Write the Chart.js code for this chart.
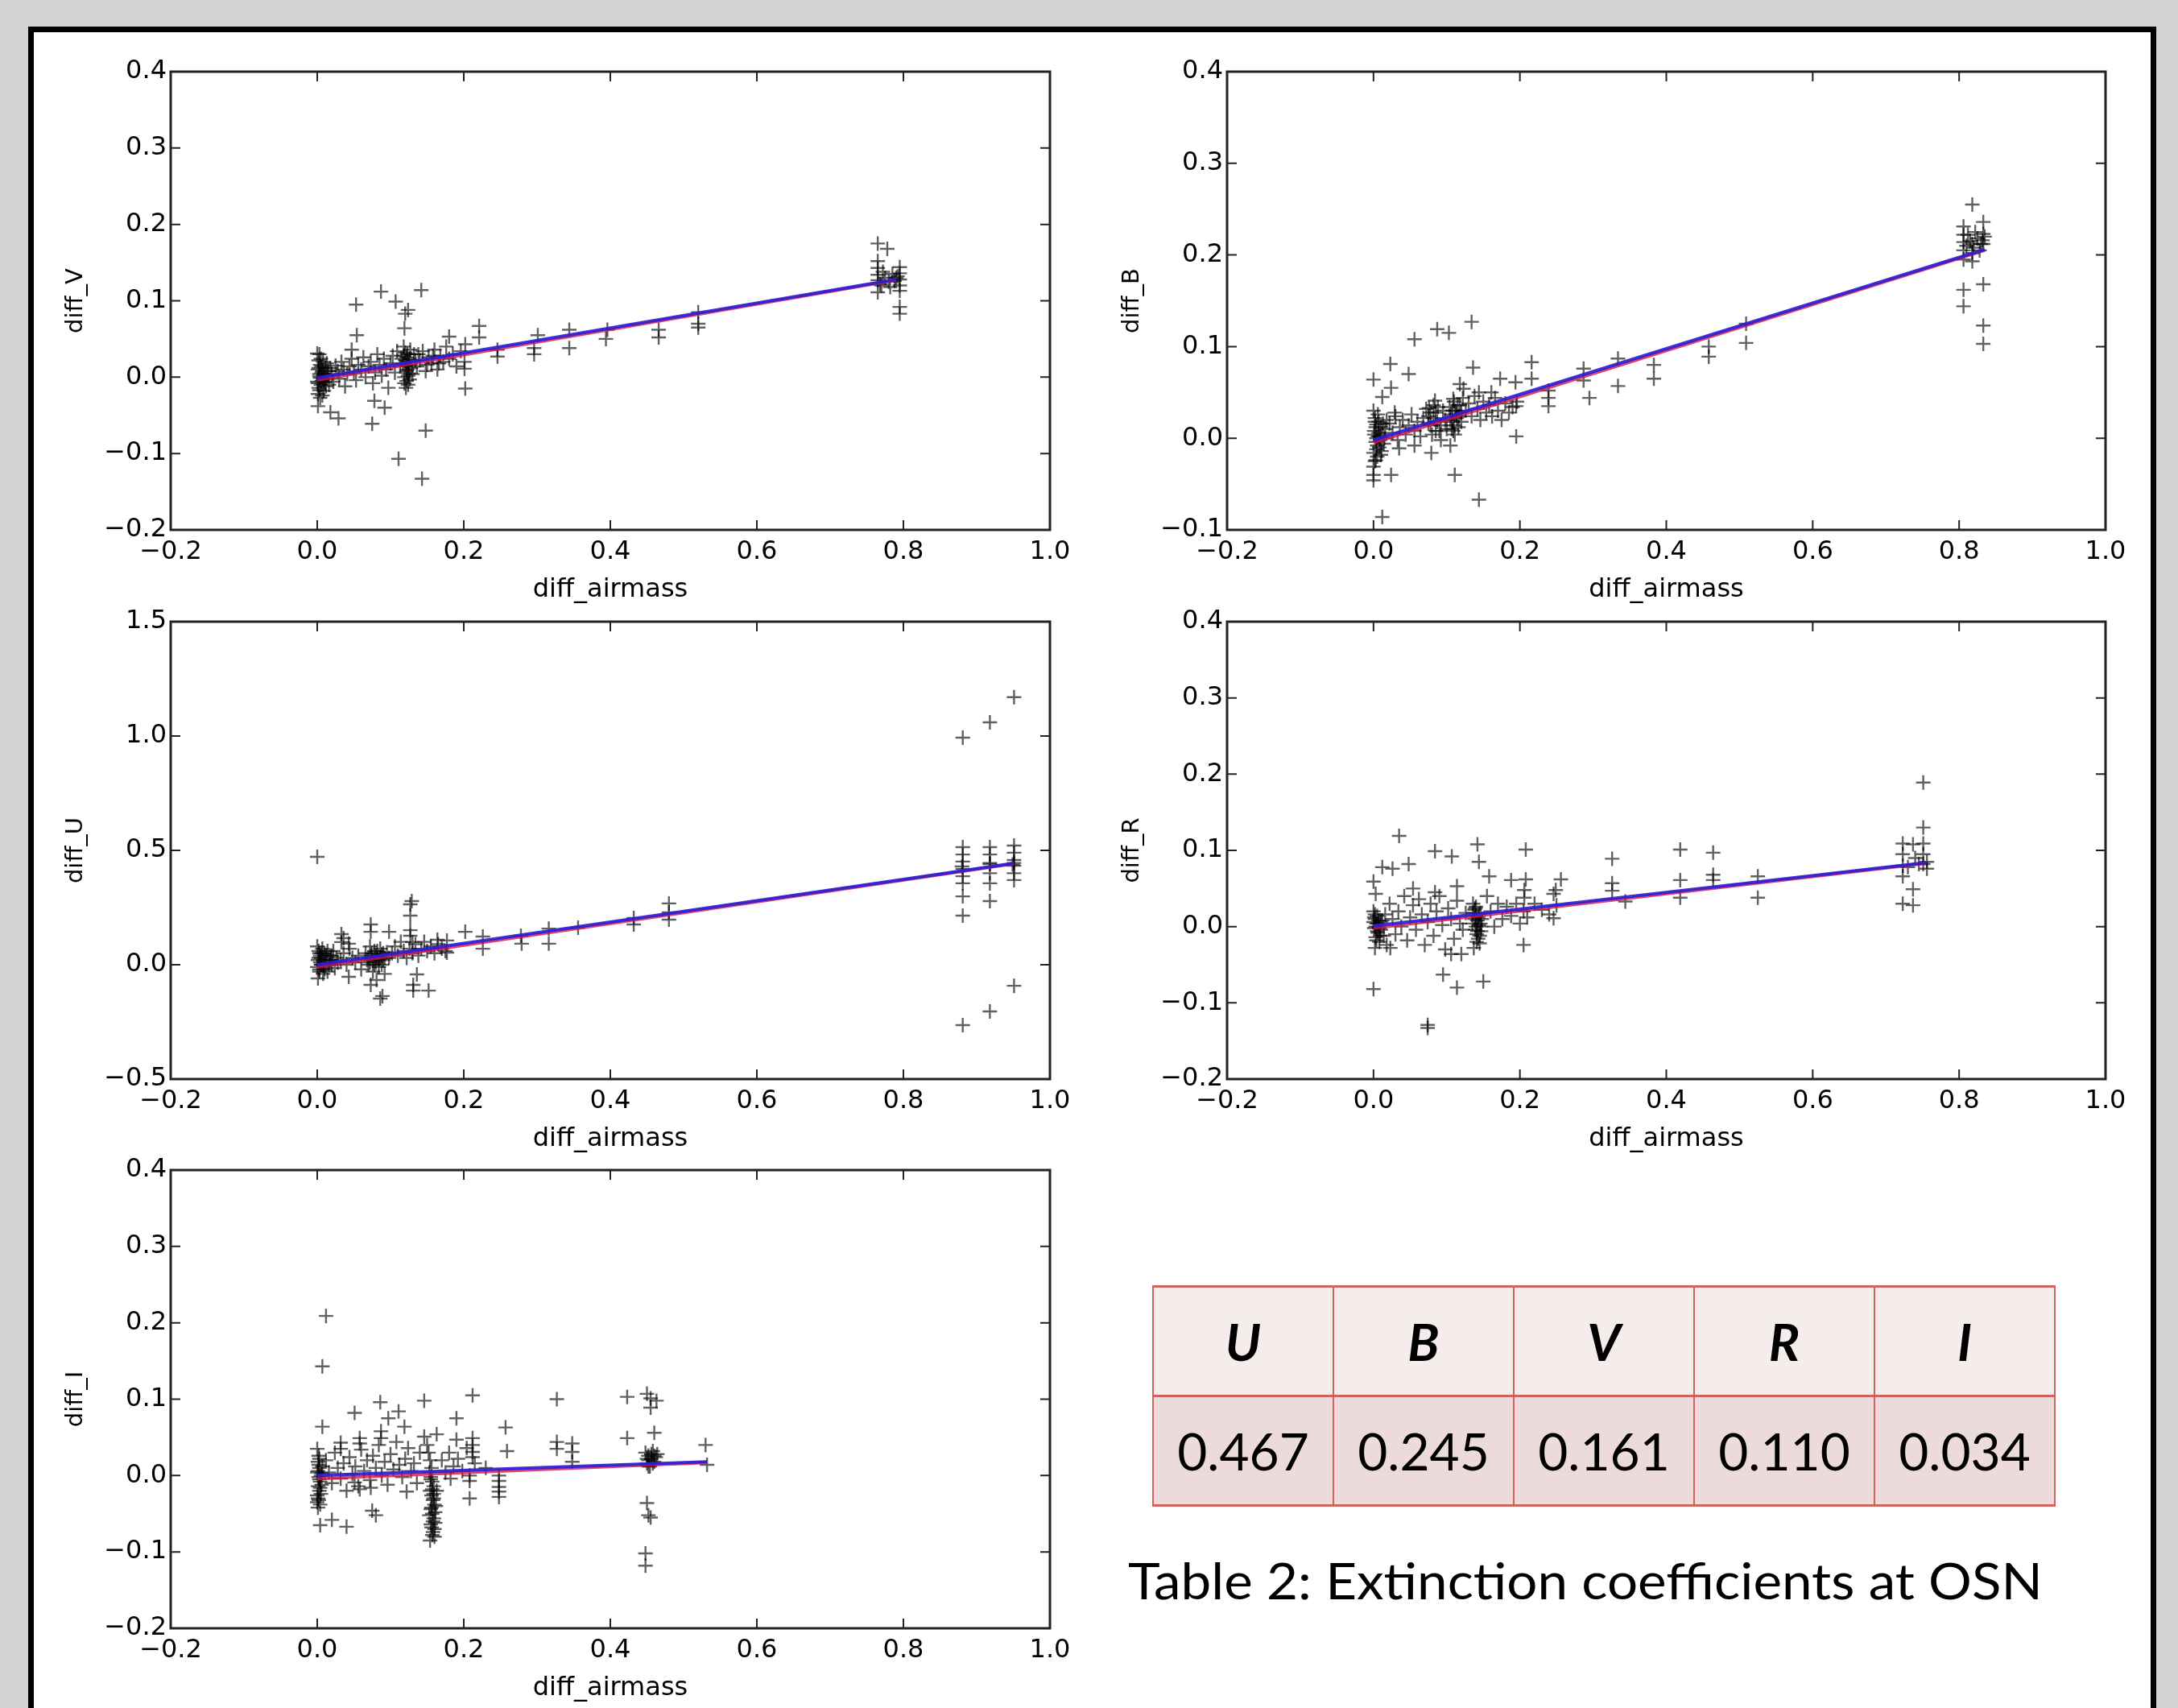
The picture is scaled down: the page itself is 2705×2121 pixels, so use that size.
<!DOCTYPE html>
<html>
<head>
<meta charset="utf-8">
<script src="https://cdn.jsdelivr.net/npm/chart.js@4.4.1/dist/chart.umd.min.js"></script>
<style>
  html, body { margin: 0; padding: 0; width: 2705px; height: 2121px; overflow: hidden; background: #d3d3d3; }
  #frame { position: absolute; left: 35px; top: 33px; width: 2629px; height: 2200px; border: 7px solid #000; border-bottom: none; background: #fff; }
  canvas { position: absolute; }
  #coef { position: absolute; left: 1431px; top: 1596px; width: 1122px; height: 271px; border-collapse: collapse; font-family: Lato, "Open Sans", sans-serif; font-size: 64px; color: #000; }
  #coef td { border: 2px solid #d0625e; text-align: center; vertical-align: middle; width: 20%; padding: 0; }
  #coef tr.head td { background: #f5ecec; font-weight: bold; font-style: italic; height: 133px; border-top-width: 3px; border-bottom-width: 3px; }
  #coef tr.vals td { background: #eddadb; height: 133px; border-bottom-width: 3px; }
  #caption { position: absolute; left: 1401px; top: 1931px; font-family: Lato, "Open Sans", sans-serif; font-size: 62px; line-height: 62px; white-space: nowrap; transform-origin: 0 0; color: #000; }
</style>
</head>
<body>
<div id="frame"></div>
<canvas id="panelV"></canvas>
<canvas id="panelB"></canvas>
<canvas id="panelU"></canvas>
<canvas id="panelR"></canvas>
<canvas id="panelI"></canvas>
<table id="coef">
  <tr class="head" id="coefHead"></tr>
  <tr class="vals" id="coefVals"></tr>
</table>
<div id="caption">Table 2: Extinction coefficients at OSN</div>
<script>
// ---- data ----
const xTicks = [-0.2, 0.0, 0.2, 0.4, 0.6, 0.8, 1.0];
const yTicksV = [-0.2, -0.1, 0.0, 0.1, 0.2, 0.3, 0.4];
const yTicksB = [-0.1, 0.0, 0.1, 0.2, 0.3, 0.4];
const yTicksU = [-0.5, 0.0, 0.5, 1.0, 1.5];
const yTicksR = [-0.2, -0.1, 0.0, 0.1, 0.2, 0.3, 0.4];
const yTicksI = [-0.2, -0.1, 0.0, 0.1, 0.2, 0.3, 0.4];

const bands = ["U", "B", "V", "R", "I"];
const coefficients = ["0.467", "0.245", "0.161", "0.110", "0.034"];

const pointsV = [
  [0.000,0.031],[0.002,0.022],[0.004,0.016],[0.001,0.010],[0.006,0.006],[0.003,0.001],[0.008,-0.003],[0.000,-0.006],
  [0.005,-0.010],[0.002,-0.014],[0.009,-0.018],[0.001,-0.022],[0.004,-0.027],[0.011,0.012],[0.013,0.018],[0.010,-0.002],
  [0.007,0.008],[0.012,-0.012],[0.003,0.004],[0.006,-0.005],
  [0.002,0.012],[0.004,-0.001],[0.006,0.014],[0.008,0.020],[0.001,-0.008],[0.003,-0.017],[0.007,-0.024],[0.009,0.004],
  [0.011,-0.007],[0.005,0.024],[0.014,0.002],[0.016,-0.010],[0.015,0.008],
  [0.018,0.012],[0.020,0.004],[0.022,-0.006],[0.025,0.015],[0.028,0.008],[0.030,-0.002],[0.033,0.020],[0.036,0.010],
  [0.038,-0.012],[0.041,0.004],[0.044,0.014],[0.047,0.024],[0.050,0.006],[0.053,-0.004],[0.056,0.016],[0.060,0.010],
  [0.063,0.026],[0.066,0.000],[0.070,0.014],[0.073,0.020],[0.076,-0.008],[0.079,0.006],[0.082,0.030],[0.085,0.016],
  [0.088,0.002],[0.091,0.024],[0.094,0.010],[0.097,-0.014],[0.100,0.018],[0.103,0.028],[0.106,0.006],[0.109,0.034],
  [0.118,0.040],[0.120,0.032],[0.122,0.026],[0.124,0.020],[0.121,0.015],[0.123,0.010],[0.125,0.005],[0.119,0.000],
  [0.122,-0.005],[0.124,-0.010],[0.121,-0.014],[0.126,0.024],[0.128,0.012],[0.117,0.018],
  [0.123,0.030],[0.120,0.022],[0.125,0.016],[0.122,0.008],[0.119,-0.008],[0.124,0.002],[0.126,-0.003],[0.118,0.028],
  [0.127,0.036],[0.113,0.014],[0.115,0.024],
  [0.132,0.030],[0.136,0.014],[0.140,0.022],[0.144,0.034],[0.148,0.008],[0.152,0.026],[0.156,0.018],[0.160,0.036],
  [0.164,0.010],[0.168,0.028],[0.172,0.020],[0.176,0.040],[0.180,0.024],[0.185,0.030],[0.190,0.014],[0.196,0.034],
  [0.130,0.004],[0.134,0.022],[0.138,0.030],[0.150,0.016],[0.158,0.028],[0.166,0.018],
  [0.087,0.112],[0.142,0.114],[0.053,0.095],[0.107,0.099],[0.124,0.088],[0.120,0.083],[0.119,0.064],[0.054,0.055],
  [0.221,0.067],[0.221,0.052],[0.180,0.053],[0.202,0.043],[0.246,0.036],[0.246,0.027],[0.301,0.055],[0.296,0.038],
  [0.296,0.030],[0.344,0.062],[0.344,0.038],[0.202,-0.015],[0.003,0.030],[0.001,-0.038],[0.018,-0.046],[0.029,-0.054],
  [0.075,-0.061],[0.078,-0.031],[0.092,-0.040],[0.148,-0.070],[0.111,-0.107],[0.143,-0.133],[0.047,0.036],[0.201,0.011],
  [0.201,0.020],[0.396,0.062],[0.394,0.050],[0.466,0.062],[0.466,0.052],[0.520,0.085],[0.520,0.070],[0.520,0.065],
  [0.765,0.175],[0.778,0.168],[0.765,0.152],[0.765,0.143],[0.765,0.134],[0.765,0.127],[0.765,0.111],[0.795,0.144],
  [0.795,0.136],[0.795,0.128],[0.795,0.120],[0.795,0.113],[0.795,0.092],[0.795,0.083],[0.770,0.120],[0.775,0.130],
  [0.780,0.125],[0.785,0.135],[0.790,0.130],[0.772,0.138],[0.782,0.118],[0.788,0.126],[0.768,0.122],[0.792,0.132]
];

const pointsB = [
  [0.000,0.030],[0.002,0.022],[0.004,0.015],[0.001,0.008],[0.006,0.002],[0.003,-0.004],[0.008,-0.010],[0.000,-0.016],
  [0.005,-0.020],[0.002,-0.025],[0.010,0.012],[0.012,0.004],[0.014,-0.006],[0.007,0.018],[0.011,-0.014],[0.016,0.010],
  [0.018,0.020],[0.004,0.000],
  [0.001,0.004],[0.003,0.012],[0.005,-0.008],[0.007,0.006],[0.009,-0.002],[0.002,0.018],[0.004,-0.012],[0.006,0.026],
  [0.008,0.002],[0.010,-0.018],[0.013,0.016],[0.015,0.000],
  [0.022,0.016],[0.026,0.006],[0.030,0.024],[0.033,-0.002],[0.036,0.012],[0.040,0.020],[0.044,0.004],[0.048,0.014],
  [0.052,0.026],[0.056,0.008],[0.060,0.018],[0.064,0.002],[0.068,0.022],
  [0.072,0.032],[0.075,0.024],[0.078,0.014],[0.080,0.004],[0.082,0.036],[0.085,0.028],[0.087,0.018],[0.090,0.008],
  [0.092,-0.002],[0.095,0.030],[0.098,0.020],[0.100,0.010],
  [0.075,0.016],[0.078,0.028],[0.082,0.022],[0.085,0.008],[0.088,0.034],[0.092,0.014],
  [0.104,0.034],[0.106,0.026],[0.108,0.018],[0.110,0.040],[0.112,0.030],[0.114,0.022],[0.116,0.012],[0.118,0.036],
  [0.120,0.028],[0.122,0.044],[0.107,0.010],[0.111,0.004],
  [0.105,0.020],[0.108,0.030],[0.110,0.014],[0.113,0.026],[0.115,0.036],[0.117,0.024],[0.120,0.018],[0.109,0.008],
  [0.126,0.030],[0.130,0.038],[0.134,0.024],[0.138,0.046],[0.142,0.032],[0.146,0.020],[0.150,0.040],[0.154,0.028],
  [0.158,0.036],[0.162,0.024],[0.166,0.044],[0.170,0.030],[0.175,0.020],[0.180,0.038],[0.185,0.028],[0.190,0.034],
  [0.196,0.040],
  [0.134,0.127],[0.087,0.119],[0.103,0.115],[0.056,0.108],[0.023,0.081],[0.000,0.064],[0.048,0.070],[0.024,0.055],
  [0.012,0.045],[0.136,0.077],[0.173,0.065],[0.194,0.061],[0.216,0.083],[0.216,0.065],[0.195,0.035],[0.195,0.002],
  [0.118,0.059],[0.123,0.054],[0.144,0.050],[0.161,0.050],[0.029,0.028],[0.076,0.033],[0.084,0.041],[0.109,0.043],
  [0.000,-0.040],[0.024,-0.040],[0.000,-0.046],[0.000,-0.031],[0.003,-0.024],[0.111,-0.040],[0.144,-0.067],[0.012,-0.086],
  [0.079,-0.016],[0.105,-0.008],[0.035,-0.011],[0.056,-0.008],
  [0.239,0.052],[0.239,0.044],[0.239,0.035],[0.287,0.076],[0.287,0.063],[0.295,0.044],[0.334,0.087],[0.334,0.057],
  [0.383,0.080],[0.383,0.065],[0.458,0.100],[0.458,0.089],[0.509,0.125],[0.509,0.104],
  [0.818,0.255],[0.806,0.231],[0.806,0.222],[0.806,0.214],[0.806,0.205],[0.806,0.195],[0.806,0.162],[0.806,0.144],
  [0.818,0.202],[0.818,0.193],[0.833,0.236],[0.833,0.223],[0.833,0.212],[0.833,0.168],[0.833,0.123],[0.833,0.103],
  [0.810,0.210],[0.815,0.215],[0.820,0.208],[0.825,0.218],[0.830,0.212],[0.835,0.220],[0.812,0.222],[0.822,0.225],
  [0.832,0.216],[0.828,0.205],[0.818,0.212]
];

const pointsU = [
  [0.000,0.080],[0.002,0.060],[0.004,0.040],[0.001,0.020],[0.006,0.000],[0.003,-0.020],[0.008,-0.040],[0.000,-0.010],
  [0.005,0.030],[0.010,0.050],[0.012,0.010],[0.014,-0.030],[0.007,0.070],[0.016,0.020],[0.018,0.040],[0.020,0.000],
  [0.022,0.060],[0.024,-0.015],[0.026,0.030],[0.028,0.010],[0.003,0.050],[0.009,-0.005],
  [0.002,0.030],[0.004,0.010],[0.006,0.050],[0.008,0.020],[0.010,-0.020],[0.012,0.040],[0.014,0.060],[0.016,0.000],
  [0.018,0.020],[0.020,0.040],[0.003,-0.030],[0.005,0.000],
  [0.032,0.020],[0.036,0.050],[0.040,0.000],[0.044,0.070],[0.048,0.030],[0.052,0.010],[0.056,0.040],[0.060,-0.020],
  [0.066,0.050],[0.068,0.020],[0.070,0.000],[0.072,0.080],[0.074,0.040],[0.076,-0.030],[0.078,0.060],[0.080,0.010],
  [0.082,0.030],[0.084,-0.010],[0.086,0.070],[0.088,0.045],[0.090,0.020],[0.092,-0.040],[0.095,0.055],[0.098,0.030],
  [0.070,0.030],[0.072,0.010],[0.074,0.050],[0.076,0.020],[0.078,0.000],[0.080,0.040],[0.082,0.060],[0.084,0.020],
  [0.086,0.030],[0.088,0.000],[0.090,0.050],[0.092,0.030],
  [0.102,0.050],[0.106,0.080],[0.110,0.040],[0.114,0.100],[0.118,0.060],[0.122,0.030],[0.126,0.070],[0.130,0.050],
  [0.134,0.090],[0.138,0.040],[0.142,0.070],[0.146,0.100],[0.150,0.060],[0.155,0.080],[0.160,0.050],[0.165,0.090],
  [0.170,0.070],[0.175,0.060],
  [0.127,0.264],[0.127,0.215],[0.127,0.151],[0.127,0.127],[0.130,0.099],[0.073,0.176],[0.073,0.144],[0.098,0.144],
  [0.033,0.134],[0.033,0.099],[0.036,0.116],[0.043,0.092],[0.202,0.144],[0.226,0.123],[0.226,0.070],[0.278,0.127],
  [0.279,0.092],[0.316,0.158],[0.316,0.092],[0.356,0.162],[0.177,0.106],[0.177,0.053],[0.164,0.109],[0.001,-0.060],
  [0.043,-0.053],[0.073,-0.088],[0.081,-0.067],[0.089,-0.137],[0.136,-0.042],[0.131,-0.088],[0.131,-0.113],[0.152,-0.113],
  [0.000,0.472],[0.086,-0.148],[0.129,0.278],[0.432,0.204],[0.432,0.176],[0.480,0.268],[0.480,0.229],[0.480,0.197],
  [0.881,0.993],[0.881,0.514],[0.881,0.482],[0.881,0.451],[0.881,0.419],[0.881,0.387],[0.881,0.356],[0.881,0.299],
  [0.881,0.215],[0.881,-0.264],[0.918,1.060],[0.918,0.514],[0.918,0.482],[0.918,0.440],[0.918,0.400],[0.918,0.356],
  [0.918,0.278],[0.918,-0.204],[0.951,1.170],[0.951,0.521],[0.951,0.490],[0.951,0.458],[0.951,0.433],[0.951,0.400],
  [0.951,0.370],[0.951,-0.092],[0.880,0.430],[0.918,0.445],[0.951,0.445],[0.949,0.438]
];

const pointsR = [
  [0.000,0.020],[0.002,0.010],[0.004,0.004],[0.001,-0.002],[0.006,-0.008],[0.003,-0.014],[0.008,-0.020],[0.000,0.006],
  [0.005,0.014],[0.010,-0.004],[0.012,0.008],[0.014,-0.012],[0.007,0.000],[0.016,0.016],[0.018,-0.024],[0.002,-0.028],
  [0.001,0.012],[0.003,0.000],[0.005,-0.006],[0.007,0.008],[0.009,-0.012],[0.002,0.016],[0.004,-0.018],[0.006,0.004],
  [0.008,-0.002],[0.010,0.006],
  [0.022,0.030],[0.026,0.010],[0.030,-0.010],[0.034,0.020],[0.038,0.000],[0.042,0.040],[0.046,-0.018],[0.050,0.012],
  [0.054,0.028],[0.058,-0.004],[0.062,0.036],[0.066,0.016],[0.070,-0.024],[0.074,0.006],[0.078,0.030],[0.082,-0.012],
  [0.086,0.020],[0.090,0.040],[0.094,0.002],[0.098,-0.030],[0.102,0.024],[0.106,0.010],[0.110,-0.016],[0.114,0.034],
  [0.118,0.004],[0.122,-0.004],[0.126,0.018],
  [0.136,0.030],[0.138,0.022],[0.140,0.014],[0.142,0.008],[0.144,0.002],[0.139,-0.004],[0.141,-0.010],[0.143,-0.016],
  [0.145,-0.022],[0.137,-0.028],[0.146,0.018],[0.148,0.010],[0.135,0.004],[0.147,-0.006],
  [0.138,0.010],[0.140,0.000],[0.142,-0.006],[0.144,0.016],[0.146,0.004],[0.139,0.024],[0.141,-0.020],[0.143,0.012],
  [0.145,-0.012],[0.140,0.026],[0.147,0.000],[0.136,0.018],
  [0.155,0.040],[0.160,0.020],[0.165,0.000],[0.170,0.030],[0.176,0.010],[0.182,0.026],[0.188,0.014],[0.195,0.030],
  [0.200,0.004],[0.205,0.020],[0.210,0.012],[0.220,0.030],[0.230,0.022],[0.240,0.016],[0.250,0.028],
  [0.035,0.119],[0.084,0.099],[0.107,0.092],[0.142,0.108],[0.144,0.085],[0.208,0.101],[0.012,0.078],[0.026,0.076],
  [0.048,0.082],[0.000,0.059],[0.003,0.043],[0.158,0.066],[0.188,0.061],[0.208,0.062],[0.206,0.048],[0.206,0.038],
  [0.256,0.062],[0.249,0.048],[0.246,0.043],[0.246,0.011],[0.114,0.053],[0.054,0.050],[0.084,0.045],[0.205,-0.024],
  [0.095,-0.063],[0.114,-0.080],[0.150,-0.072],[0.000,-0.082],[0.074,-0.129],[0.074,-0.133],[0.106,-0.036],[0.120,-0.036],
  [0.023,-0.028],
  [0.326,0.089],[0.326,0.057],[0.326,0.047],[0.344,0.033],[0.419,0.101],[0.419,0.061],[0.419,0.038],[0.464,0.097],
  [0.464,0.068],[0.464,0.061],[0.525,0.066],[0.525,0.038],
  [0.751,0.189],[0.751,0.130],[0.751,0.109],[0.751,0.095],[0.751,0.082],[0.723,0.109],[0.723,0.095],[0.723,0.080],
  [0.723,0.066],[0.723,0.030],[0.737,0.108],[0.737,0.049],[0.737,0.028],[0.756,0.085],[0.756,0.076],[0.730,0.078],
  [0.745,0.082],[0.740,0.090]
];

const pointsI = [
  [0.000,0.035],[0.002,0.026],[0.001,0.018],[0.003,0.010],[0.000,0.004],[0.002,-0.002],[0.004,-0.008],[0.001,-0.014],
  [0.003,-0.020],[0.000,-0.026],[0.002,-0.032],[0.004,-0.038],[0.001,-0.042],[0.005,0.000],[0.006,-0.012],[0.007,0.012],
  [0.001,0.006],[0.003,-0.005],[0.002,0.014],[0.004,-0.016],[0.000,-0.035],[0.003,0.022],[0.005,-0.024],[0.001,-0.030],
  [0.006,0.003],
  [0.012,0.020],[0.016,0.004],[0.020,-0.010],[0.024,0.030],[0.028,0.010],[0.032,-0.004],[0.036,0.016],[0.040,-0.020],
  [0.044,0.024],[0.048,0.002],[0.052,0.012],[0.056,-0.014],[0.060,0.034],[0.064,0.006],[0.068,0.020],[0.072,-0.006],
  [0.076,0.026],[0.080,0.010],[0.084,0.040],[0.088,0.000],[0.092,0.018],[0.096,-0.012],[0.100,0.028],[0.104,0.008],
  [0.108,0.044],[0.112,0.014],[0.116,-0.002],[0.120,0.022],[0.124,0.036],[0.128,0.006],[0.132,0.016],[0.136,-0.010],
  [0.140,0.030],
  [0.150,0.040],[0.152,0.030],[0.154,0.020],[0.156,0.010],[0.153,0.004],[0.155,-0.002],[0.157,-0.008],[0.159,-0.014],
  [0.154,-0.020],[0.156,-0.026],[0.158,-0.032],[0.160,-0.038],[0.155,-0.044],[0.157,-0.050],[0.159,-0.056],[0.161,-0.062],
  [0.156,-0.068],[0.158,-0.074],[0.160,-0.080],[0.154,-0.085],[0.162,-0.040],[0.163,-0.020],
  [0.155,-0.005],[0.157,-0.018],[0.159,-0.030],[0.156,-0.042],[0.158,-0.060],[0.160,-0.070],[0.157,-0.078],[0.155,-0.064],
  [0.161,-0.048],[0.153,-0.052],[0.159,-0.024],
  [0.170,0.020],[0.175,0.004],[0.180,0.030],[0.186,0.012],[0.192,0.022],[0.198,0.006],[0.204,0.036],[0.215,0.016],
  [0.230,0.010],
  [0.448,0.030],[0.452,0.026],[0.456,0.022],[0.460,0.018],[0.464,0.028],[0.450,0.016],[0.458,0.032],[0.462,0.024],
  [0.454,0.012],[0.450,0.022],[0.456,0.028],[0.460,0.026],[0.452,0.020],[0.458,0.016],
  [0.012,0.209],[0.007,0.143],[0.007,0.064],[0.086,0.096],[0.051,0.082],[0.146,0.098],[0.111,0.084],[0.097,0.075],
  [0.212,0.105],[0.190,0.075],[0.119,0.064],[0.087,0.058],[0.087,0.049],[0.058,0.049],[0.058,0.042],[0.032,0.043],
  [0.032,0.035],[0.257,0.063],[0.259,0.032],[0.212,0.049],[0.212,0.040],[0.212,0.031],[0.212,0.024],[0.190,0.047],
  [0.146,0.051],[0.163,0.054],[0.248,0.000],[0.248,-0.007],[0.248,-0.015],[0.248,-0.021],[0.248,-0.028],[0.208,-0.030],
  [0.208,0.000],[0.208,-0.007],[0.182,-0.004],[0.122,-0.021],[0.075,-0.046],[0.080,-0.052],[0.004,-0.065],[0.020,-0.058],
  [0.040,-0.067],[0.073,-0.016],[0.051,-0.009],[0.058,-0.018],
  [0.327,0.100],[0.327,0.044],[0.327,0.035],[0.348,0.042],[0.348,0.031],[0.348,0.018],[0.423,0.103],[0.423,0.049],
  [0.450,0.107],[0.455,0.101],[0.455,0.089],[0.460,0.056],[0.452,0.012],[0.450,-0.036],[0.452,-0.052],[0.455,-0.055],
  [0.448,-0.102],[0.448,-0.118],[0.530,0.040],[0.532,0.014],[0.463,0.098]
];

// fitted lines (end points): blue fit and red fit under it
const fitV = [[0.0, -0.001], [0.79, 0.128]];
const fitVred = [[0.0, -0.004], [0.79, 0.127]];
const fitB = [[0.0, -0.002], [0.835, 0.206]];
const fitBred = [[0.0, -0.005], [0.835, 0.205]];
const fitU = [[0.0, 0.000], [0.951, 0.444]];
const fitUred = [[0.0, -0.010], [0.951, 0.442]];
const fitR = [[0.0, 0.001], [0.755, 0.084]];
const fitRred = [[0.0, -0.002], [0.755, 0.083]];
const fitI = [[0.0, 0.000], [0.532, 0.018]];
const fitIred = [[0.0, -0.004], [0.532, 0.017]];

// ---- layout ----
const PAD_LEFT = 180, PAD_TOP = 30, PAD_RIGHT = 50, PAD_BOTTOM = 110;

function tickText(v) {
  const s = Math.abs(v).toFixed(1);
  return v < -1e-9 ? "\u2212" + s : s;
}

// matplotlib-like frame with inward ticks on all four sides
const frameTicks = {
  id: "frameTicks",
  afterDatasetsDraw(chart) {
    const { ctx, chartArea: a, scales: { x, y } } = chart;
    const len = 12;
    ctx.save();
    ctx.strokeStyle = "#222";
    ctx.lineWidth = 2;
    ctx.beginPath();
    x.ticks.forEach((t) => {
      const px = x.getPixelForValue(t.value);
      ctx.moveTo(px, a.bottom); ctx.lineTo(px, a.bottom - len);
      ctx.moveTo(px, a.top); ctx.lineTo(px, a.top + len);
    });
    y.ticks.forEach((t) => {
      const py = y.getPixelForValue(t.value);
      ctx.moveTo(a.left, py); ctx.lineTo(a.left + len, py);
      ctx.moveTo(a.right, py); ctx.lineTo(a.right - len, py);
    });
    ctx.stroke();
    ctx.lineWidth = 3;
    ctx.strokeRect(a.left, a.top, a.right - a.left, a.bottom - a.top);
    ctx.restore();
  }
};

function makePanel(id, box, points, fit, fitRed, yTicks, yLabel) {
  const canvas = document.getElementById(id);
  canvas.width = box.w + PAD_LEFT + PAD_RIGHT;
  canvas.height = box.h + PAD_TOP + PAD_BOTTOM;
  canvas.style.left = (box.left - PAD_LEFT) + "px";
  canvas.style.top = (box.top - PAD_TOP) + "px";

  new Chart(canvas.getContext("2d"), {
    type: "scatter",
    data: {
      datasets: [
        { data: fit, showLine: true, borderColor: "rgba(45,30,210,0.92)", borderWidth: 4, pointRadius: 0 },
        { data: fitRed, showLine: true, borderColor: "rgba(215,20,70,0.8)", borderWidth: 4, pointRadius: 0 },
        {
          data: points,
          pointStyle: "cross",
          pointRadius: 9,
          pointBorderWidth: 2.4,
          borderColor: "rgba(0,0,0,0.62)",
          backgroundColor: "rgba(0,0,0,0.62)"
        }
      ]
    },
    options: {
      responsive: false,
      animation: false,
      devicePixelRatio: 1,
      layout: { padding: { left: 0, top: PAD_TOP, right: PAD_RIGHT, bottom: 0 } },
      plugins: { legend: { display: false }, tooltip: { enabled: false } },
      scales: {
        x: {
          type: "linear",
          min: xTicks[0],
          max: xTicks[xTicks.length - 1],
          afterBuildTicks: (axis) => { axis.ticks = xTicks.map((v) => ({ value: v })); },
          afterFit: (axis) => { axis.height = PAD_BOTTOM; },
          grid: { display: false, drawTicks: false },
          border: { display: false },
          ticks: {
            padding: 8,
            color: "#000",
            maxRotation: 0,
            font: { family: "DejaVu Sans", size: 32 },
            callback: (v) => tickText(v)
          },
          title: {
            display: true,
            text: "diff_airmass",
            color: "#000",
            font: { family: "DejaVu Sans", size: 32 },
            padding: { top: 0, bottom: 16 }
          }
        },
        y: {
          type: "linear",
          min: yTicks[0],
          max: yTicks[yTicks.length - 1],
          afterBuildTicks: (axis) => { axis.ticks = yTicks.map((v) => ({ value: v })); },
          afterFit: (axis) => { axis.width = PAD_LEFT; },
          grid: { display: false, drawTicks: false },
          border: { display: false },
          ticks: {
            padding: 5,
            color: "#000",
            font: { family: "DejaVu Sans", size: 32 },
            callback: (v) => tickText(v)
          },
          title: {
            display: true,
            text: yLabel,
            color: "#000",
            font: { family: "DejaVu Sans", size: 29 },
            padding: { top: 45, bottom: 0 }
          }
        }
      }
    },
    plugins: [frameTicks]
  });
}

makePanel("panelV", { left: 212, top: 89, w: 1092, h: 569 }, pointsV, fitV, fitVred, yTicksV, "diff_V");
makePanel("panelB", { left: 1524, top: 89, w: 1091, h: 569 }, pointsB, fitB, fitBred, yTicksB, "diff_B");
makePanel("panelU", { left: 212, top: 772, w: 1092, h: 568 }, pointsU, fitU, fitUred, yTicksU, "diff_U");
makePanel("panelR", { left: 1524, top: 772, w: 1091, h: 568 }, pointsR, fitR, fitRred, yTicksR, "diff_R");
makePanel("panelI", { left: 212, top: 1453, w: 1092, h: 569 }, pointsI, fitI, fitIred, yTicksI, "diff_I");

// ---- coefficient table ----
const headRow = document.getElementById("coefHead");
const valRow = document.getElementById("coefVals");
bands.forEach((b, i) => {
  const th = document.createElement("td");
  th.textContent = b;
  headRow.appendChild(th);
  const td = document.createElement("td");
  td.textContent = coefficients[i];
  valRow.appendChild(td);
});

// squeeze caption to the width it has in the picture
const caption = document.getElementById("caption");
const capWidth = caption.getBoundingClientRect().width;
caption.style.transform = "scaleX(" + (1136 / capWidth) + ")";
</script>
</body>
</html>
